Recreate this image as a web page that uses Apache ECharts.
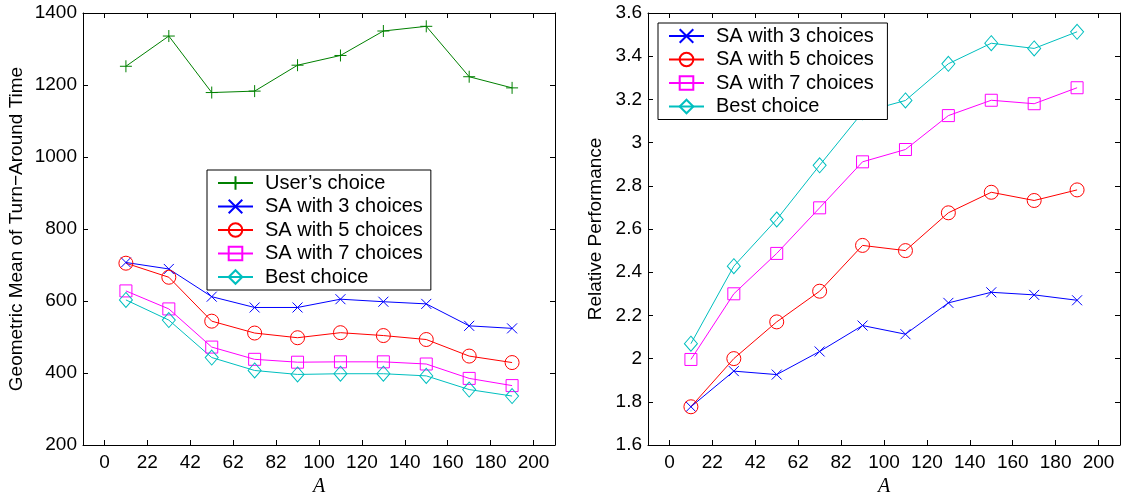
<!DOCTYPE html>
<html>
<head>
<meta charset="utf-8">
<script src="https://cdn.jsdelivr.net/npm/echarts@6/dist/echarts.min.js"></script>
<style>
  html, body { margin: 0; padding: 0; background: #fff; }
  #chart { width: 1122px; height: 496px; }
</style>
</head>
<body>
<div id="chart"></div>
<script>
// x positions (A) shared by every series
const aValues = [10, 30, 50, 70, 90, 110, 130, 150, 170, 190]
// tick positions and the labels printed under them
const xTickValues = [0, 20, 40, 60, 80, 100, 120, 140, 160, 180, 200]
const xTickLabels = ['0', '22', '42', '62', '82', '100', '120', '140', '160', '180', '200']

// left panel: geometric mean of turn-around time
const userChoiceTime = [1252, 1336, 1179, 1183, 1255, 1282, 1350, 1363, 1223, 1192]
const sa3Time = [707, 689, 612, 582, 582, 605, 598, 592, 531, 524]
const sa5Time = [705, 666, 544, 511, 498, 512, 504, 493, 447, 429]
const sa7Time = [628, 578, 472, 438, 430, 431, 431, 425, 385, 365]
const bestTime = [603, 547, 443, 407, 396, 398, 398, 392, 354, 336]

// right panel: relative performance
const sa3Perf = [1.777, 1.942, 1.926, 2.033, 2.153, 2.113, 2.258, 2.307, 2.295, 2.27]
const sa5Perf = [1.777, 2.0, 2.17, 2.312, 2.524, 2.50, 2.675, 2.77, 2.732, 2.781]
const sa7Perf = [1.996, 2.30, 2.487, 2.698, 2.911, 2.968, 3.125, 3.196, 3.18, 3.254]
const bestPerf = [2.069, 2.428, 2.644, 2.895, 3.14, 3.195, 3.365, 3.46, 3.436, 3.513]

const FONT = '"Liberation Sans", Arial, Helvetica, sans-serif'
const PLUS = 'path://M0,5L10,5M5,0L5,10'
const CROSS = 'path://M0,0L10,10M0,10L10,0'

const toPairs = vals => vals.map((v, i) => [aValues[i], v])

// one line series in MATLAB style: thin line, hollow marker
function makeLine(name, vals, color, symbol, size, axisIdx) {
  return {
    name: name,
    type: 'line',
    xAxisIndex: axisIdx,
    yAxisIndex: axisIdx,
    data: toPairs(vals),
    symbol: symbol,
    symbolSize: size,
    showAllSymbol: true,
    lineStyle: { color: color, width: 1 },
    itemStyle: { color: 'rgba(0,0,0,0)', borderColor: color, borderWidth: 1 },
    emphasis: { disabled: true },
    z: 3
  }
}

function bottomAxis(gridIdx) {
  return {
    type: 'value',
    gridIndex: gridIdx,
    min: -10,
    max: 210,
    name: 'A',
    nameLocation: 'middle',
    nameGap: 31,
    nameTextStyle: { fontFamily: '"Liberation Serif", "Times New Roman", serif', fontStyle: 'italic', fontSize: 20, color: '#000' },
    axisLine: { show: true, onZero: false, lineStyle: { color: '#000', width: 1 } },
    axisTick: { show: true, inside: true, length: 5, customValues: xTickValues, lineStyle: { color: '#000' } },
    axisLabel: {
      customValues: xTickValues,
      color: '#000',
      fontFamily: FONT,
      fontSize: 19,
      margin: 8,
      formatter: v => xTickLabels[xTickValues.indexOf(v)]
    },
    splitLine: { show: false }
  }
}

function topAxis(gridIdx) {
  return {
    type: 'value',
    gridIndex: gridIdx,
    position: 'top',
    min: -10,
    max: 210,
    axisLine: { show: true, onZero: false, lineStyle: { color: '#000', width: 1 } },
    axisTick: { show: true, inside: true, length: 5, customValues: xTickValues, lineStyle: { color: '#000' } },
    axisLabel: { show: false },
    splitLine: { show: false }
  }
}

function leftAxis(gridIdx, min, max, step, name, gap, fmt) {
  return {
    type: 'value',
    gridIndex: gridIdx,
    min: min,
    max: max,
    interval: step,
    name: name,
    nameLocation: 'middle',
    nameGap: gap,
    nameTextStyle: { fontFamily: FONT, fontSize: 19, color: '#000' },
    axisLine: { show: true, onZero: false, lineStyle: { color: '#000', width: 1 } },
    axisTick: { show: true, inside: true, length: 5, lineStyle: { color: '#000' } },
    axisLabel: { color: '#000', fontFamily: FONT, fontSize: 19, margin: 6, formatter: fmt },
    splitLine: { show: false }
  }
}

function rightAxis(gridIdx, min, max, step) {
  return {
    type: 'value',
    gridIndex: gridIdx,
    position: 'right',
    min: min,
    max: max,
    interval: step,
    axisLine: { show: true, onZero: false, lineStyle: { color: '#000', width: 1 } },
    axisTick: { show: true, inside: true, length: 5, lineStyle: { color: '#000' } },
    axisLabel: { show: false },
    splitLine: { show: false }
  }
}

function makeLegend(names, left, top) {
  return {
    data: names,
    orient: 'vertical',
    left: left,
    top: top,
    backgroundColor: '#fff',
    borderColor: '#000',
    borderWidth: 1,
    borderRadius: 0,
    padding: [3, 8, 3, 10],
    itemGap: 3.5,
    itemWidth: 35,
    itemHeight: 17,
    selectedMode: false,
    textStyle: { fontFamily: FONT, fontSize: 20, color: '#000', lineHeight: 20, padding: [0, 0, 0, 7] }
  }
}

const chart = echarts.init(document.getElementById('chart'), null, { renderer: 'canvas' })

const option = {
  animation: false,
  backgroundColor: '#fff',
  grid: [
    { left: 83, top: 13, width: 472, height: 432, outerBoundsMode: 'none' },
    { left: 648, top: 13, width: 472, height: 432, outerBoundsMode: 'none' }
  ],
  xAxis: [bottomAxis(0), bottomAxis(1), topAxis(0), topAxis(1)],
  yAxis: [
    leftAxis(0, 200, 1400, 200, 'Geometric Mean of Turn\u2212Around Time', 57, v => String(v)),
    leftAxis(1, 1.6, 3.6, 0.2, 'Relative Performance', 43, v => String(parseFloat(v.toFixed(1)))),
    rightAxis(0, 200, 1400, 200),
    rightAxis(1, 1.6, 3.6, 0.2)
  ],
  legend: [
    makeLegend(['User\u2019s choice', 'SA with 3 choices', 'SA with 5 choices', 'SA with 7 choices', 'Best choice'], 207, 170),
    makeLegend(['SA with 3 choices ', 'SA with 5 choices ', 'SA with 7 choices ', 'Best choice '], 658, 23)
  ],
  series: [
    makeLine('User\u2019s choice', userChoiceTime, '#008000', PLUS, 12, 0),
    makeLine('SA with 3 choices', sa3Time, '#0000ff', CROSS, 10, 0),
    makeLine('SA with 5 choices', sa5Time, '#ff0000', 'circle', 14, 0),
    makeLine('SA with 7 choices', sa7Time, '#ff00ff', 'rect', 12, 0),
    makeLine('Best choice', bestTime, '#00bfbf', 'diamond', [13, 15], 0),
    // trailing space keeps the right legend separate from the left one
    makeLine('SA with 3 choices ', sa3Perf, '#0000ff', CROSS, 10, 1),
    makeLine('SA with 5 choices ', sa5Perf, '#ff0000', 'circle', 14, 1),
    makeLine('SA with 7 choices ', sa7Perf, '#ff00ff', 'rect', 12, 1),
    makeLine('Best choice ', bestPerf, '#00bfbf', 'diamond', [13, 15], 1)
  ]
}

chart.setOption(option)
</script>
</body>
</html>
